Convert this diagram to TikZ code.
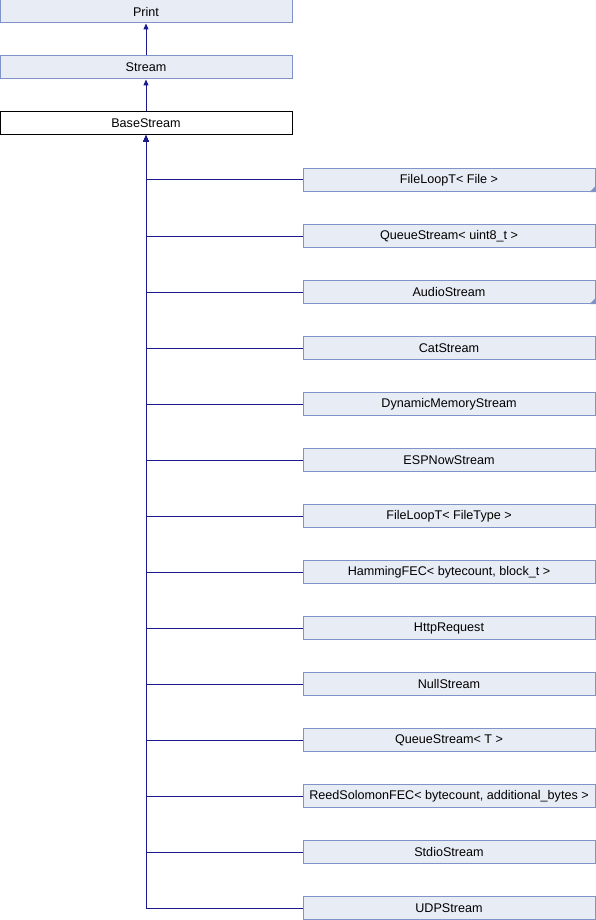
\documentclass[tikz,border=0pt]{standalone}
\usepackage{fontspec}
\setmainfont{Liberation Sans}
\usetikzlibrary{arrows.meta}
\definecolor{boxfill}{HTML}{E8ECF5}
\definecolor{boxline}{HTML}{7F93C9}
\definecolor{edgecol}{HTML}{1A1A8C}
\begin{document}
\begin{tikzpicture}[x=1pt,y=-1pt,
  cls/.style={draw=boxline,fill=boxfill,line width=1pt,minimum width=292pt,minimum height=23pt,inner sep=0pt,font=\fontsize{12.6}{14}\selectfont},
  curcls/.style={cls,draw=black,fill=white},
  inh/.style={draw=edgecol,line width=1pt,-{Triangle[length=6pt,width=5pt]}},
  more/.style={fill=boxline}]
\useasboundingbox (0,0) rectangle (596,920);
\node[cls] (print) at (146,11.5) {Print};
\node[cls] (stream) at (146,67.5) {Stream};
\node[curcls] (base) at (146,123.5) {BaseStream};
\draw[inh] (stream) -- (print);
\draw[inh] (base) -- (stream);
\foreach \i/\name/\txt in {
 0/c0/{FileLoopT< File >},
 1/c1/{QueueStream< uint8\_t >},
 2/c2/{AudioStream},
 3/c3/{CatStream},
 4/c4/{DynamicMemoryStream},
 5/c5/{ESPNowStream},
 6/c6/{FileLoopT< FileType >},
 7/c7/{HammingFEC< bytecount, block\_t >},
 8/c8/{HttpRequest},
 9/c9/{NullStream},
 10/c10/{QueueStream< T >},
 11/c11/{ReedSolomonFEC< bytecount, additional\_bytes >},
 12/c12/{StdioStream},
 13/c13/{UDPStream}}{
  \node[cls] (\name) at (449,{180+56*\i}) {\txt};
  \draw[inh] (\name.west) -| (base.south);
}
\fill[more] (c0.south east) -- ++(-6,0) -- ++(6,-6) -- cycle;
\fill[more] (c2.south east) -- ++(-6,0) -- ++(6,-6) -- cycle;
\end{tikzpicture}
\end{document}
